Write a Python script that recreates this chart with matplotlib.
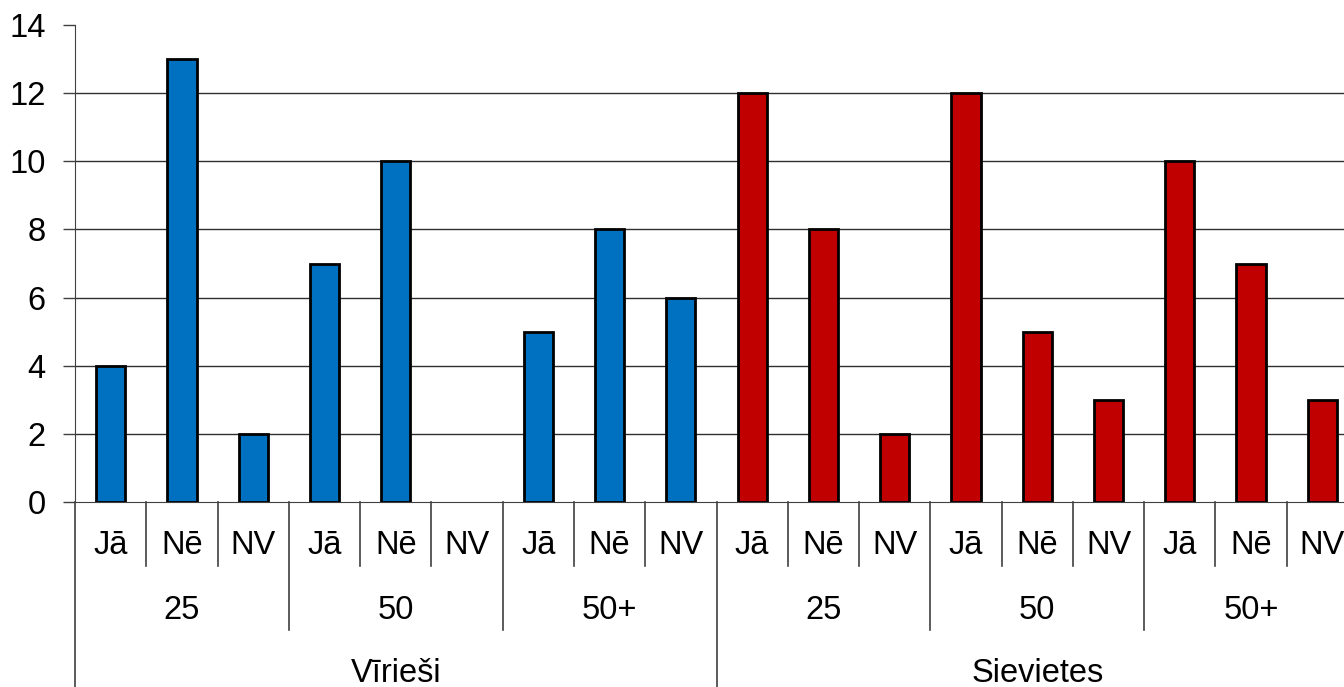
import matplotlib.pyplot as plt

plt.rcParams['font.family'] = ['Liberation Sans', 'DejaVu Sans']

# data
genders = ['Vīrieši', 'Sievietes']
ages = ['25', '50', '50+']
answers = ['Jā', 'Nē', 'NV']
men = [4, 13, 2, 7, 10, 0, 5, 8, 6]
women = [12, 8, 2, 12, 5, 3, 10, 7, 3]
colors = ['#0070C0', '#C00000']

fig = plt.figure(figsize=(13.44, 6.87), dpi=100)
# plot area runs past the right edge of the picture, as in the reference
ax = fig.add_axes([75 / 1344, 185 / 687, 1283 / 1344, 477 / 687])

n = len(answers) * len(ages)
for g, vals in enumerate([men, women]):
    xs = [g * n + i for i in range(n)]
    ax.bar(xs, vals, width=0.41, color=colors[g], edgecolor='black',
           linewidth=[2.0 if v else 0 for v in vals], zorder=3)

ax.set_xlim(-0.5, 2 * n - 0.5)
ax.set_ylim(0, 14)
ax.set_yticks(range(0, 15, 2))
ax.tick_params(axis='y', labelsize=23.5, length=9, width=1, color='#404040', pad=12)
ax.set_xticks([])
for y in range(2, 13, 2):
    ax.axhline(y, color='#303030', lw=1, zorder=1)

for s in ['top', 'right']:
    ax.spines[s].set_visible(False)
ax.spines['left'].set_color('#404040')
ax.spines['bottom'].set_color('#404040')

tr = ax.get_xaxis_transform()
# category separators for the three label levels
for k in range(2 * n + 1):
    x = k - 0.5
    if k % n == 0:
        y0 = -0.42
    elif k % 3 == 0:
        y0 = -0.268
    else:
        y0 = -0.134
    ax.plot([x, x], [0, y0], transform=tr, color='#404040', lw=1.2, clip_on=False)

for k in range(2 * n):
    ax.text(k, -0.092, answers[k % 3], transform=tr, ha='center', va='center', fontsize=23.5)
for k in range(2 * len(ages)):
    ax.text(3 * k + 1, -0.228, ages[k % 3], transform=tr, ha='center', va='center', fontsize=23.5)
for g, name in enumerate(genders):
    ax.text(g * n + (n - 1) / 2, -0.36, name, transform=tr, ha='center', va='center', fontsize=23.5)

fig.savefig('out.png', dpi=100)
